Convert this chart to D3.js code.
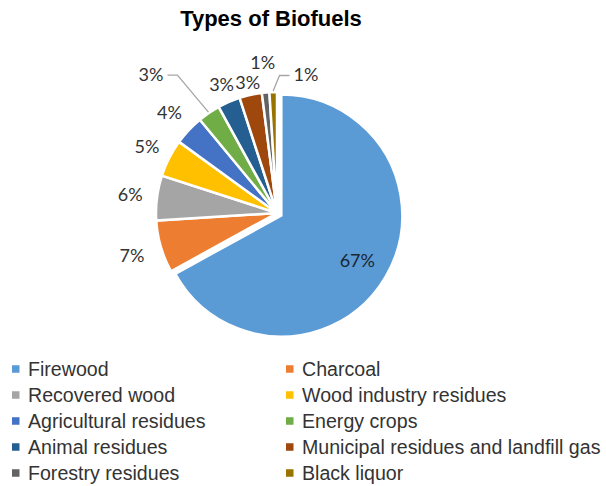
<!DOCTYPE html>
<html>
<head>
<meta charset="utf-8">
<script src="https://cdn.jsdelivr.net/npm/d3@7"></script>
<style>
  body { margin: 0; background: #fff; }
</style>
</head>
<body>
<div id="chart"></div>
<script>
var categories = ["Firewood", "Charcoal", "Recovered wood", "Wood industry residues",
  "Agricultural residues", "Energy crops", "Animal residues",
  "Municipal residues and landfill gas", "Forestry residues", "Black liquor"]
var values = [67, 7, 6, 5, 4, 3, 3, 3, 1, 1]
var colors = ["#5B9BD5", "#ED7D31", "#A5A5A5", "#FFC000", "#4472C4",
  "#70AD47", "#255E91", "#9E480E", "#636363", "#997300"]

var width = 606,
    height = 486,
    radius = 121,
    cx = 277,
    cy = 213

// how far past the rim each outside label sits (centre of text)
var labelPush = {"Charcoal": 30, "Recovered wood": 27, "Wood industry residues": 25,
  "Agricultural residues": 26.5, "Animal residues": 18.5,
  "Municipal residues and landfill gas": 13, "Forestry residues": 30.5}
// labels moved away from their slice, joined with a leader line
var leaders = {"Energy crops": {angle: 317.8, r: 187.6}, "Black liquor": {angle: 11.8, r: 141.5}}
var exploded = {"Firewood": 5}

var svg = d3.select("#chart")
  .append("svg")
    .attr("width", width)
    .attr("height", height)
    .style("font-family", "Lato, 'Open Sans', sans-serif")

svg.append("text")
  .attr("x", 271)
  .attr("y", 26)
  .attr("text-anchor", "middle")
  .style("font-family", "'Liberation Sans', Arial, sans-serif")
  .style("font-weight", "bold")
  .style("font-size", "22px")
  .attr("fill", "#000")
  .text("Types of Biofuels")

var color = d3.scaleOrdinal().domain(categories).range(colors)

var pie = d3.pie().sort(null).value(function(d) { return d.value })
var data_ready = pie(categories.map(function(c, i) { return {key: c, value: values[i]} }))

var arc = d3.arc().innerRadius(0).outerRadius(radius)

function mid(d) { return (d.startAngle + d.endAngle) / 2 }
function polar(a, r) { return [Math.sin(a) * r, -Math.cos(a) * r] }

var g = svg.append("g").attr("transform", "translate(" + cx + "," + cy + ")")

g.selectAll("allSlices")
  .data(data_ready)
  .enter()
  .append("path")
    .attr("d", arc)
    .attr("transform", function(d) {
      var off = polar(mid(d), exploded[d.data.key] || 0)
      return "translate(" + off + ")"
    })
    .attr("fill", function(d) { return color(d.data.key) })
    .attr("stroke", "white")
    .style("stroke-width", "2.5px")

// inside label for the big slice
g.selectAll("inLabels")
  .data(data_ready.filter(function(d) { return exploded[d.data.key] }))
  .enter()
  .append("text")
    .attr("transform", function(d) {
      var off = polar(mid(d), exploded[d.data.key])
      var p = polar(mid(d), radius * 0.73)
      return "translate(" + (p[0] + off[0]) + "," + (p[1] + off[1] + 6.5) + ")"
    })
    .attr("text-anchor", "middle")
    .style("font-size", "18px")
    .attr("fill", "#1b2633")
    .text(function(d) { return d.data.value + "%" })

// outside labels
g.selectAll("outLabels")
  .data(data_ready.filter(function(d) { return labelPush[d.data.key] !== undefined }))
  .enter()
  .append("text")
    .attr("transform", function(d) {
      var p = polar(mid(d), radius + labelPush[d.data.key])
      return "translate(" + p[0] + "," + (p[1] + 6.5) + ")"
    })
    .attr("text-anchor", "middle")
    .style("font-size", "18px")
    .attr("fill", "#333")
    .text(function(d) { return d.data.value + "%" })

// leader labels
var lead = data_ready.filter(function(d) { return leaders[d.data.key] })

var leadText = g.selectAll("leadLabels")
  .data(lead)
  .enter()
  .append("text")
    .attr("transform", function(d) {
      var L = leaders[d.data.key]
      var p = polar(L.angle * Math.PI / 180, L.r)
      return "translate(" + p[0] + "," + (p[1] + 6.5) + ")"
    })
    .attr("text-anchor", "middle")
    .style("font-size", "18px")
    .attr("fill", "#333")
    .text(function(d) { return d.data.value + "%" })

leadText.each(function(d) {
  var w = this.getComputedTextLength()
  var L = leaders[d.data.key]
  var p = polar(L.angle * Math.PI / 180, L.r)
  var end = polar(mid(d), radius + 1)
  var side = end[0] > p[0] ? 1 : -1
  var sx = p[0] + side * (w / 2 + 4)
  var y = p[1] + 1
  g.append("polyline")
    .attr("points", [[sx, y], [sx + side * 10, y], end].join(" "))
    .attr("fill", "none")
    .attr("stroke", "#A6A6A6")
    .attr("stroke-width", 1.3)
})

// legend
var legend = svg.selectAll("legendItems")
  .data(categories)
  .enter()
  .append("g")
    .attr("transform", function(d, i) {
      return "translate(" + (i % 2 ? 286 : 12) + "," + (369 + Math.floor(i / 2) * 26) + ")"
    })

legend.append("rect")
  .attr("x", 0)
  .attr("y", -3.75)
  .attr("width", 7.5)
  .attr("height", 7.5)
  .attr("fill", function(d) { return color(d) })

legend.append("text")
  .attr("x", 16)
  .attr("y", 6.8)
  .style("font-family", "'Liberation Sans', Arial, sans-serif")
  .style("font-size", "19.6px")
  .attr("fill", "#333")
  .text(function(d) { return d })
</script>
</body>
</html>
